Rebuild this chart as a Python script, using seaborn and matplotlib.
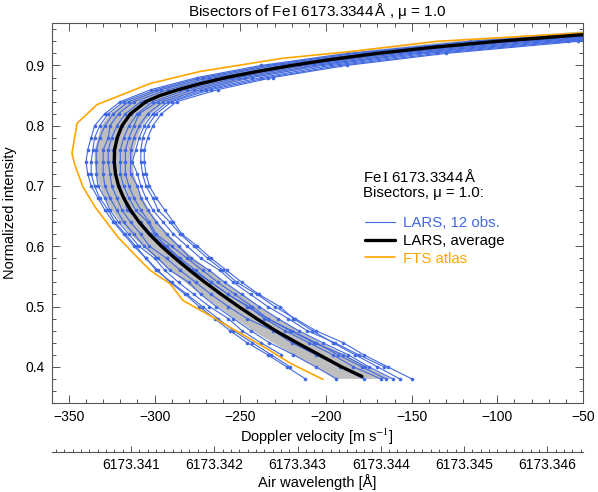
import numpy as np
import pandas as pd
import matplotlib
matplotlib.use("Agg")
import matplotlib.pyplot as plt
from matplotlib.lines import Line2D
from matplotlib.ticker import MultipleLocator, FormatStrFormatter
import seaborn as sns

# intensity levels at which the LARS bisectors are sampled
levels = [0.38, 0.40, 0.42, 0.44, 0.46, 0.48, 0.50, 0.52, 0.54, 0.56,
          0.58, 0.60, 0.62, 0.64, 0.66, 0.68, 0.70, 0.72, 0.74, 0.76,
          0.78, 0.80, 0.82, 0.84, 0.86, 0.88, 0.90, 0.92, 0.94, 0.96]

# 12 LARS observations, Doppler velocity [m/s] (shorter ones start higher up)
obs_01 = [-221, -232, -243, -254, -263, -272, -281, -290, -299, -305, -312, -318, -324, -329, -333,
          -337, -339, -340, -339, -337, -335, -329, -320, -302, -275, -238, -187, -116, -20]
obs_02 = [-212, -223, -234, -246, -256, -265, -274, -282, -291, -298, -305, -311, -317, -323, -327,
          -332, -335, -337, -337, -336, -335, -332, -327, -318, -299, -272, -234, -183, -111, -15]
obs_03 = [-226, -238, -249, -257, -268, -277, -286, -294, -300, -309, -315, -321, -326, -329,
          -333, -334, -334, -334, -332, -329, -324, -315, -296, -268, -230, -178, -107, -10]
obs_04 = [-194, -206, -219, -233, -244, -254, -264, -273, -280, -291, -298, -306, -312, -318, -322,
          -326, -329, -330, -330, -330, -327, -326, -321, -312, -292, -264, -225, -173, -102, -5]
obs_05 = [-178, -192, -206, -220, -231, -246, -257, -267, -276, -285, -293, -303, -308, -314, -319,
          -322, -325, -326, -327, -327, -325, -322, -317, -308, -288, -259, -220, -167, -95, 3]
obs_06 = [-177, -190, -207, -221, -234, -246, -257, -267, -278, -286, -294, -302, -308, -316,
          -318, -321, -323, -324, -324, -322, -319, -314, -305, -285, -255, -216, -162, -89, 10]
obs_07 = [-168, -184, -196, -210, -224, -236, -245, -257, -267, -276, -285, -293, -300, -304, -311,
          -315, -318, -320, -320, -320, -318, -315, -310, -301, -281, -251, -212, -157, -83, 17]
obs_08 = [-165, -179, -193, -206, -220, -234, -243, -253, -263, -272, -281, -290, -299, -303, -308,
          -312, -315, -317, -317, -317, -315, -312, -309, -298, -277, -247, -207, -151, -76, 25]
obs_09 = [-161, -175, -187, -202, -216, -228, -239, -249, -259, -268, -279, -286, -293, -299, -304,
          -308, -310, -314, -314, -314, -312, -309, -304, -295, -273, -243, -202, -146, -70, 31]
obs_10 = [-166, -181, -195, -211, -222, -234, -244, -254, -262, -273, -281, -289, -295, -301,
          -305, -308, -310, -313, -311, -309, -306, -301, -292, -270, -238, -197, -141, -64, 37]
obs_11 = [-150, -164, -178, -190, -206, -218, -230, -240, -252, -260, -269, -277, -285, -291, -298,
          -301, -305, -307, -308, -308, -307, -304, -299, -290, -267, -234, -192, -135, -59, 43]
obs_12 = [-157, -170, -183, -196, -208, -219, -227, -239, -249, -258, -267, -275, -284, -289, -294,
          -299, -303, -305, -306, -306, -304, -301, -296, -287, -263, -231, -188, -130, -53, 50]
lars_obs = [obs_01, obs_02, obs_03, obs_04, obs_05, obs_06,
            obs_07, obs_08, obs_09, obs_10, obs_11, obs_12]

# spread of the observations (grey band)
band_lo = [-194, -206, -219, -231, -243, -253, -263, -273, -282, -291, -299, -307, -314, -320, -325,
           -329, -332, -334, -335, -335, -333, -331, -326, -317, -300, -274, -238, -192, -126, -35]
band_hi = [-162, -176, -189, -203, -216, -228, -239, -249, -259, -268, -277, -285, -292, -298, -303,
           -307, -310, -312, -313, -312, -310, -307, -302, -293, -272, -242, -202, -148, -74, 25]

# LARS average bisector
avg_int = [0.384, 0.40, 0.42, 0.44, 0.46, 0.48, 0.50, 0.52, 0.54, 0.56, 0.58, 0.60,
           0.62, 0.64, 0.66, 0.68, 0.70, 0.72, 0.74, 0.76, 0.78, 0.80, 0.82, 0.84,
           0.85, 0.86, 0.87, 0.88, 0.89, 0.90, 0.91, 0.92, 0.93, 0.94, 0.95, 0.96]
avg_vel = [-179, -191, -204, -217, -229.5, -240.5, -251, -261, -270.5, -279.5, -288, -296,
           -303, -309, -314, -318, -321, -322.8, -323.5, -323.3, -321.8, -319, -314, -305,
           -297, -286, -273, -258, -240, -220, -197, -170, -138, -100, -55, -5]

# FTS atlas bisector
fts_int = [0.379, 0.406, 0.427, 0.456, 0.472, 0.482, 0.497, 0.510, 0.538, 0.560, 0.577, 0.615,
           0.665, 0.698, 0.734, 0.754, 0.804, 0.835, 0.870, 0.890, 0.912, 0.923, 0.940, 0.948,
           0.954, 0.960]
fts_vel = [-201.7, -220.9, -232.6, -250.1, -260, -265.8, -275.2, -283.4, -291, -302.6, -308.5, -321.3,
           -334.7, -341.7, -346.4, -348.2, -345.2, -333.6, -302.6, -273.5, -225.1, -186, -135.2, -86.8,
           -50, -15]

# wavelength axis labels
wave_ticks = [6173.341, 6173.342, 6173.343, 6173.344, 6173.345, 6173.346]

line_name = "Fe$\\,\\mathrm{I}$ 6173.3344$\\,$Å"
lambda_ref = 6173.34746
c_light = 299792458.0

blue = "#4169e1"
orange = "#ffa500"
axcol = "#555555"

rows = []
for k, vel in enumerate(lars_obs):
    rows.append(pd.DataFrame({"obs": k, "intensity": levels[len(levels) - len(vel):], "velocity": vel}))
df = pd.concat(rows, ignore_index=True)

sns.set_theme(style="ticks", rc={"text.color": "black", "axes.labelcolor": "black",
                                 "xtick.color": axcol, "ytick.color": axcol,
                                 "xtick.labelcolor": "black", "ytick.labelcolor": "black"})
plt.rcParams["font.family"] = ["Liberation Sans", "DejaVu Sans"]
plt.rcParams["mathtext.fontset"] = "stix"

fig = plt.figure(figsize=(5.98, 4.92), dpi=100)
ax = fig.add_axes([0.0865, 0.181, 0.8885, 0.7717])

ax.fill_betweenx(levels, band_lo, band_hi, color="#bebebe", lw=0, zorder=1)
sns.lineplot(data=df, x="velocity", y="intensity", units="obs", estimator=None, sort=False,
             color=blue, lw=0.8, marker="o", markersize=2.6, markeredgewidth=0,
             legend=False, ax=ax, zorder=2)
sns.lineplot(x=fts_vel, y=fts_int, estimator=None, sort=False, color=orange, lw=1.2, ax=ax, zorder=3)
sns.lineplot(x=avg_vel, y=avg_int, estimator=None, sort=False, color="black", lw=2.4, ax=ax, zorder=4)

ax.set_xlim(-360, -50)
ax.set_ylim(0.34, 0.97)
ax.xaxis.set_major_locator(MultipleLocator(50))
ax.xaxis.set_minor_locator(MultipleLocator(10))
ax.yaxis.set_major_locator(MultipleLocator(0.1))
ax.yaxis.set_minor_locator(MultipleLocator(0.02))
ax.yaxis.set_major_formatter(FormatStrFormatter("%.1f"))
for sp in ax.spines.values():
    sp.set_color(axcol)
    sp.set_linewidth(0.8)
ax.tick_params(which="both", direction="in", top=True, right=True, labelsize=10, pad=5, width=0.7)
ax.tick_params(which="major", length=5.8)
ax.tick_params(which="minor", length=2.9)

ax.set_xlabel("Doppler velocity [m s$^{-1}$]", fontsize=10.5, labelpad=2)
ax.set_ylabel("Normalized intensity", fontsize=10.5, labelpad=6)
ax.set_title(f"Bisectors of {line_name} , μ = 1.0", fontsize=11, pad=5)


def vel_to_wav(v):
    return lambda_ref * (1.0 + np.asarray(v, dtype=float) / c_light)


def wav_to_vel(w):
    return (np.asarray(w, dtype=float) / lambda_ref - 1.0) * c_light


sec = ax.secondary_xaxis(-0.128, functions=(vel_to_wav, wav_to_vel))
sec.set_xticks(wave_ticks)
sec.xaxis.set_minor_locator(MultipleLocator(0.0001))
sec.xaxis.set_major_formatter(FormatStrFormatter("%.3f"))
sec.spines["bottom"].set_color(axcol)
sec.spines["bottom"].set_linewidth(0.8)
sec.tick_params(which="both", direction="in", labelsize=10, pad=5, width=0.7)
sec.tick_params(which="major", length=4)
sec.tick_params(which="minor", length=2.2)
sec.set_xlabel("Air wavelength [Å]", fontsize=10.5, labelpad=1)

# legend block
ax.text(0.586, 0.596, line_name, transform=ax.transAxes, ha="left", va="center", fontsize=10.8)
ax.text(0.586, 0.552, "Bisectors, μ = 1.0:", transform=ax.transAxes, ha="left", va="center", fontsize=10.8)
handles = [Line2D([], [], color=blue, lw=0.8),
           Line2D([], [], color="black", lw=2.4),
           Line2D([], [], color=orange, lw=1.2)]
ax.legend(handles, ["LARS, 12 obs.", "LARS, average", "FTS atlas"], loc="center left",
          bbox_to_anchor=(0.5897, 0.427), frameon=False, borderpad=0, borderaxespad=0,
          handlelength=2.0, handletextpad=0.5, labelspacing=0.25, labelcolor="linecolor", fontsize=10.8)

fig.savefig("out.png", dpi=100)
